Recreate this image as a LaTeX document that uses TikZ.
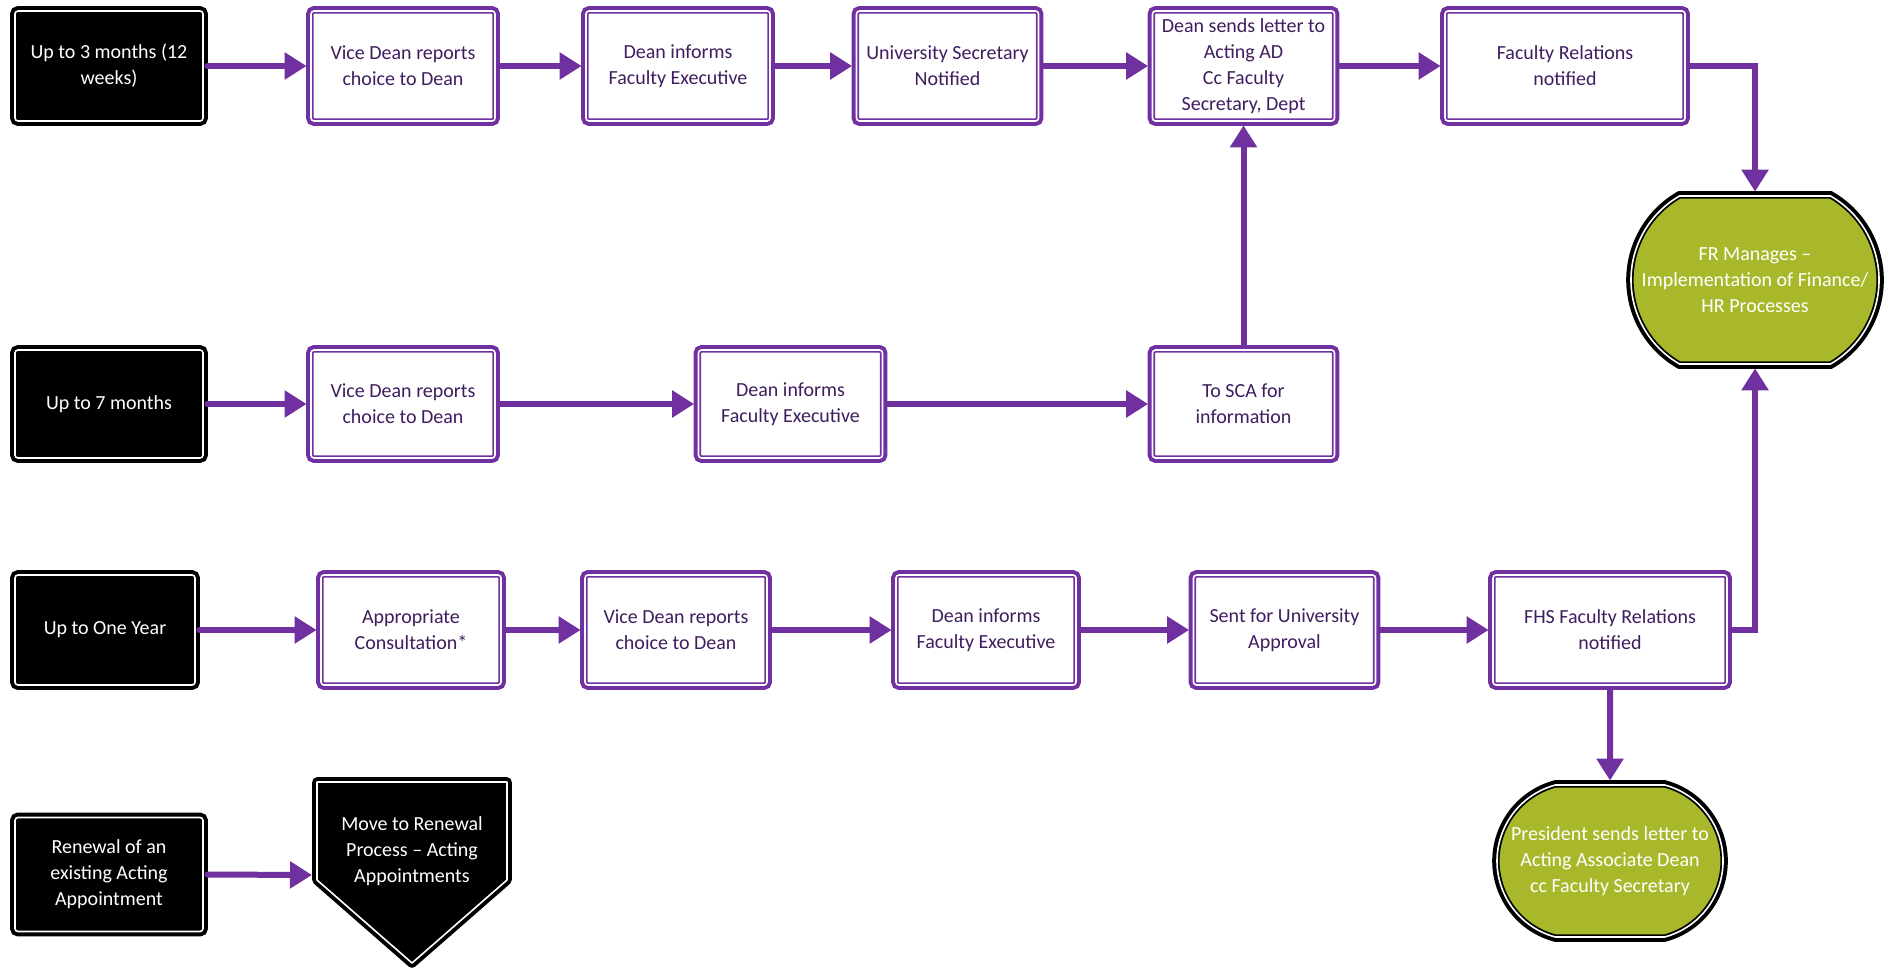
\documentclass[tikz,border=0pt]{standalone}
\usepackage{fontspec}
\setmainfont{Carlito}
\usetikzlibrary{arrows.meta,shapes.misc}
\definecolor{flowpurple}{HTML}{7030A0}
\definecolor{textpurple}{HTML}{3F1D5E}
\definecolor{olive}{HTML}{A8B82A}

\tikzset{
  base/.style={align=center, font=\fontsize{10}{13}\selectfont, inner sep=2pt,
    outer sep=2.2pt, line width=0.9pt, double distance=0.8pt, rounded corners=1.5pt},
  stepbox/.style={base, preaction={draw=flowpurple, line width=4.8pt},
    draw=flowpurple, double=white, fill=white, text=textpurple, minimum height=55pt},
  startbox/.style={base, preaction={draw=black, line width=4.8pt},
    draw=black, double=white, fill=black, text=white, minimum height=55pt},
  endcap/.style={base, rounded rectangle, rounded corners=0pt,
    preaction={draw=black, line width=4.8pt},
    draw=black, double=white, fill=olive, text=white},
  blackshape/.style={preaction={draw=black, line width=4.8pt, line join=round},
    draw=black, double=white, line width=0.9pt, double distance=0.8pt,
    fill=black, line join=round},
  flow/.style={draw=flowpurple, line width=3pt, line cap=round,
    -{Triangle[length=11pt,width=13pt]}},
}

\begin{document}
\begin{tikzpicture}[x=0.5pt, y=-0.5pt]
\useasboundingbox (0,0) rectangle (1898,973);

% up to 3 months
\node[startbox, minimum width=94pt] (k1) at (109,66) {Up to 3 months (12\\weeks)};
\node[stepbox, minimum width=92pt] (v1) at (403,66) {Vice Dean reports\\choice to Dean};
\node[stepbox, minimum width=92pt] (d1) at (678,66) {Dean informs\\Faculty Executive};
\node[stepbox, minimum width=91pt] (u1) at (947.5,66) {University Secretary\\Notified};
\node[stepbox, minimum width=91pt] (s1) at (1243.5,66) {Dean sends letter to\\Acting AD\\Cc Faculty\\Secretary, Dept};
\node[stepbox, minimum width=120pt] (f1) at (1565,66) {Faculty Relations\\notified};

% up to 7 months
\node[startbox, minimum width=94pt, minimum height=54pt] (k2) at (109,404) {Up to 7 months};
\node[stepbox, minimum width=92pt, minimum height=54pt] (v2) at (403,404) {Vice Dean reports\\choice to Dean};
\node[stepbox, minimum width=92pt, minimum height=54pt] (d2) at (790.5,404) {Dean informs\\Faculty Executive};
\node[stepbox, minimum width=91pt, minimum height=54pt] (sca) at (1243.5,404) {To SCA for\\information};

% up to one year
\node[startbox, minimum width=90pt] (k3) at (105,630) {Up to One Year};
\node[stepbox, minimum width=90pt] (ac) at (411,630) {Appropriate\\Consultation*};
\node[stepbox, minimum width=91pt] (v3) at (676,630) {Vice Dean reports\\choice to Dean};
\node[stepbox, minimum width=90pt] (d3) at (986,630) {Dean informs\\Faculty Executive};
\node[stepbox, minimum width=91pt] (sua) at (1284.5,630) {Sent for University\\Approval};
\node[stepbox, minimum width=117pt] (fhs) at (1610,630) {FHS Faculty Relations\\notified};

% end points
\node[endcap, minimum width=128pt, minimum height=84pt, rounded rectangle arc length=120] (fr) at (1755,280) {FR Manages –\\Implementation of Finance/\\HR Processes};
\node[endcap, minimum width=117pt, minimum height=76pt, rounded rectangle arc length=150] (pres) at (1610,861) {President sends letter to\\Acting Associate Dean\\cc Faculty Secretary};

% renewal
\node[startbox, minimum width=94pt, minimum height=57pt] (k4) at (109,874.5) {Renewal of an\\existing Acting\\Appointment};
\path[blackshape] (317,782) -- (507,782) -- (507,880) -- (412,963) -- (317,880) -- cycle;
\coordinate (pin) at (312,875);
\node[align=center, text=white, font=\fontsize{10}{13}\selectfont] (pt) at (412,851) {Move to Renewal\\Process – Acting\\Appointments};

% connectors
\draw[flow] (k1) -- (v1);
\draw[flow] (v1) -- (d1);
\draw[flow] (d1) -- (u1);
\draw[flow] (u1) -- (s1);
\draw[flow] (s1) -- (f1);
\draw[flow] (f1.east) -| (fr.north);

\draw[flow] (k2) -- (v2);
\draw[flow] (v2) -- (d2);
\draw[flow] (d2) -- (sca);
\draw[flow] (sca) -- (s1);

\draw[flow] (k3) -- (ac);
\draw[flow] (ac) -- (v3);
\draw[flow] (v3) -- (d3);
\draw[flow] (d3) -- (sua);
\draw[flow] (sua) -- (fhs);
\draw[flow] (fhs.east) -| (fr.south);
\draw[flow] (fhs) -- (pres);

\draw[flow] (k4.east) -- (pin);
\end{tikzpicture}
\end{document}
